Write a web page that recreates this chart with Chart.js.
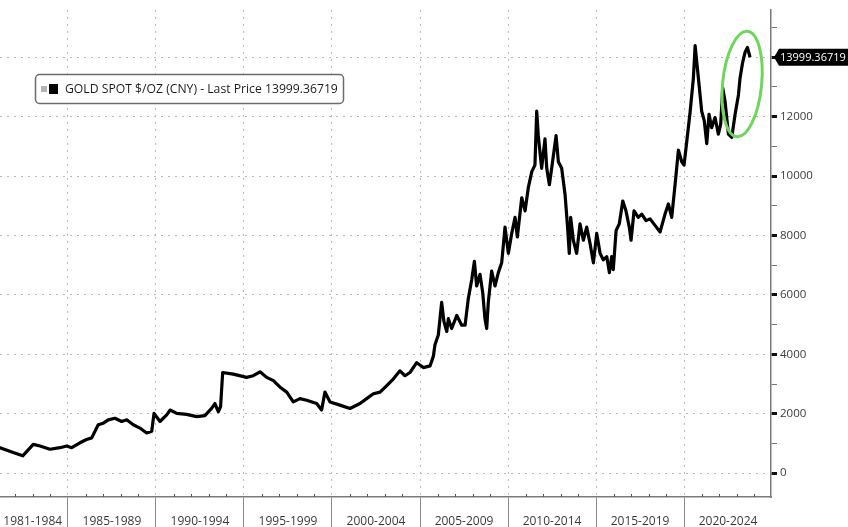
<!DOCTYPE html>
<html>
<head>
<meta charset="utf-8">
<title>Gold spot CNY</title>
<script src="https://cdn.jsdelivr.net/npm/chart.js@4.4.0/dist/chart.umd.min.js"></script>
<style>
    html, body { margin: 0; padding: 0; background: #fff; }
    #wrap { width: 848px; height: 527px; }
</style>
</head>
<body>
<div id="wrap"><canvas id="goldChart" width="848" height="527"></canvas></div>
<script>
var fontFamily = "'Open Sans', sans-serif";
var seriesLabel = "GOLD SPOT $/OZ (CNY)";
var lastPrice = 13999.36719;

// decimal year of each point
var years = [
    1981.0, 1981.14, 1981.89, 1982.43, 1983.03, 1983.41, 1983.98, 1984.55, 1984.93, 1985.21,
    1985.68, 1986.06, 1986.35, 1986.72, 1987.01, 1987.29, 1987.67, 1988.05, 1988.34, 1988.71,
    1989.09, 1989.47, 1989.76, 1989.89, 1990.23, 1990.61, 1990.8, 1991.18, 1991.74, 1992.31,
    1992.78, 1993.16, 1993.35, 1993.54, 1993.67, 1993.79, 1994.39, 1995.15, 1995.53, 1995.91,
    1996.29, 1996.67, 1997.05, 1997.43, 1997.8, 1998.18, 1998.56, 1999.13, 1999.41, 1999.6,
    1999.89, 2000.45, 2001.02, 2001.59, 2001.97, 2002.35, 2002.73, 2003.11, 2003.48, 2003.86,
    2004.15, 2004.43, 2004.81, 2005.19, 2005.57, 2005.76, 2005.85, 2006.04, 2006.23, 2006.36,
    2006.52, 2006.61, 2006.8, 2007.09, 2007.37, 2007.56, 2007.74, 2007.94, 2008.09, 2008.22,
    2008.41, 2008.56, 2008.69, 2008.79, 2008.88, 2009.07, 2009.26, 2009.45, 2009.64, 2009.83,
    2010.02, 2010.21, 2010.4, 2010.53, 2010.78, 2010.97, 2011.15, 2011.35, 2011.53, 2011.63,
    2011.72, 2011.91, 2012.1, 2012.2, 2012.35, 2012.48, 2012.73, 2012.86, 2013.05, 2013.24,
    2013.37, 2013.48, 2013.56, 2013.71, 2013.9, 2014.09, 2014.28, 2014.47, 2014.66, 2014.85,
    2015.04, 2015.23, 2015.41, 2015.61, 2015.76, 2015.89, 2015.98, 2016.14, 2016.32, 2016.52,
    2016.7, 2016.89, 2016.99, 2017.16, 2017.4, 2017.6, 2017.84, 2018.07, 2018.35, 2018.64,
    2018.92, 2019.11, 2019.3, 2019.49, 2019.68, 2019.87, 2020.0, 2020.15, 2020.34, 2020.53,
    2020.63, 2020.76, 2020.91, 2021.0, 2021.15, 2021.29, 2021.42, 2021.57, 2021.76, 2021.95,
    2022.08, 2022.2, 2022.33, 2022.52, 2022.71, 2022.9, 2023.09, 2023.18, 2023.33, 2023.47,
    2023.6, 2023.75
];

// price in CNY per oz
var prices = [
    870, 858, 693, 584, 970, 914, 805, 858, 914, 858,
    1023, 1135, 1188, 1630, 1683, 1795, 1848, 1739, 1795, 1630,
    1518, 1353, 1409, 2013, 1739, 1960, 2125, 2013, 1980, 1904,
    1937, 2178, 2343, 2069, 2234, 3389, 3333, 3224, 3280, 3412,
    3224, 3115, 2894, 2729, 2399, 2508, 2455, 2343, 2125, 2729,
    2399, 2290, 2178, 2343, 2508, 2673, 2729, 2950, 3168, 3445,
    3280, 3389, 3719, 3554, 3610, 3940, 4320, 4650, 5750, 5100,
    4770, 5200, 4870, 5310, 4980, 4980, 5860, 6520, 7130, 6300,
    6690, 6090, 5200, 4870, 5750, 6800, 6300, 6750, 7080, 8280,
    7400, 8070, 8610, 7950, 9270, 8830, 9600, 10150, 10370, 12190,
    11360, 10260, 11250, 10260, 9710, 10260, 11360, 10480, 10260, 9380,
    8390, 7400, 8610, 7840, 7400, 8390, 7840, 8280, 7730, 7080,
    8070, 7400, 7180, 7290, 6750, 7290, 6850, 8170, 8390, 9160,
    8830, 8280, 7840, 8830, 8610, 8720, 8500, 8560, 8340, 8120,
    8720, 9060, 8610, 9710, 10870, 10480, 10370, 11140, 12130, 13290,
    14390, 13620, 12730, 12190, 11860, 11090, 12080, 11630, 11970, 11410,
    11740, 12960, 12510, 11410, 11300, 12080, 12730, 13290, 13830, 14170,
    14330, 13999.37
];

// bottom axis blocks
var periodStarts = [1981, 1985, 1990, 1995, 2000, 2005, 2010, 2015, 2020];
var periodEnds = [1985, 1990, 1995, 2000, 2005, 2010, 2015, 2020, 2025];
var periodLabels = ["1981-1984", "1985-1989", "1990-1994", "1995-1999", "2000-2004", "2005-2009", "2010-2014", "2015-2019", "2020-2024"];
var periodBounds = [1985, 1990, 1995, 2000, 2005, 2010, 2015, 2020];

// right axis
var priceTicks = [0, 2000, 4000, 6000, 8000, 10000, 12000, 14000];
var priceMinorStep = 1000;

var gridColor = "#b8b8b8";
var axisColor = "#7a7a7a";
var labelColor = "#3a3a3a";

var points = years.map(function (yr, i) {
    return { x: yr, y: prices[i] };
});

var periodCenterLabel = {};
periodStarts.forEach(function (s, i) {
    periodCenterLabel[(s + periodEnds[i]) / 2] = periodLabels[i];
});

function isBound(v) {
    return periodBounds.indexOf(v) >= 0;
}

function isMajorPrice(v) {
    return priceTicks.indexOf(v) >= 0;
}

var decorPlugin = {
    id: "decor",
    afterDraw: function (chart) {
        var ctx = chart.ctx;
        var xs = chart.scales.x;
        var ys = chart.scales.y;
        var area = chart.chartArea;
        ctx.save();

        // small yearly ticks on the bottom axis
        ctx.strokeStyle = "#555";
        ctx.lineWidth = 1;
        for (var yr = 1982; yr < 2025; yr++) {
            if (yr % 5 === 0) continue;
            var px = Math.round(xs.getPixelForValue(yr)) + 0.5;
            ctx.beginPath();
            ctx.moveTo(px, area.bottom - 3);
            ctx.lineTo(px, area.bottom);
            ctx.stroke();
        }

        // green highlight ring round the latest run-up
        var cx = xs.getPixelForValue(2023.3);
        var cy = ys.getPixelForValue(13100);
        ctx.strokeStyle = "#6fd65c";
        ctx.lineWidth = 3;
        ctx.beginPath();
        ctx.ellipse(cx, cy, 19.5, 53, 0.1, 0, Math.PI * 2);
        ctx.stroke();

        // legend box
        var text = seriesLabel + " - Last Price " + lastPrice.toFixed(5);
        ctx.fillStyle = "#fff";
        ctx.strokeStyle = "#6b6b6b";
        ctx.lineWidth = 1.5;
        ctx.beginPath();
        ctx.roundRect(35.5, 74.5, 308, 29, 4);
        ctx.fill();
        ctx.stroke();
        ctx.fillStyle = "#b4b4b4";
        ctx.fillRect(41, 86, 6, 6);
        ctx.fillStyle = "#000";
        ctx.fillRect(49, 84, 9, 10);
        ctx.font = "12px " + fontFamily;
        var fs = 12 * 273 / ctx.measureText(text).width;
        ctx.font = fs.toFixed(2) + "px " + fontFamily;
        ctx.fillStyle = "#1c1c1c";
        ctx.textBaseline = "middle";
        ctx.textAlign = "left";
        ctx.fillText(text, 65, 89.5);

        // last price tag on the right axis
        var ty = ys.getPixelForValue(lastPrice);
        ctx.fillStyle = "#000";
        ctx.beginPath();
        ctx.moveTo(area.right + 3, ty);
        ctx.lineTo(area.right + 8, ty - 8.5);
        ctx.lineTo(chart.width, ty - 8.5);
        ctx.lineTo(chart.width, ty + 8.5);
        ctx.lineTo(area.right + 8, ty + 8.5);
        ctx.closePath();
        ctx.fill();
        ctx.fillStyle = "#fff";
        ctx.font = "11px " + fontFamily;
        ctx.fillText(lastPrice.toFixed(5), area.right + 9, ty + 0.5);

        ctx.restore();
    },
};

var config_line = {
    type: "line",
    data: {
        datasets: [
            {
                label: seriesLabel,
                data: points,
                borderColor: "#000",
                backgroundColor: "#000",
                borderWidth: 3.2,
                borderJoinStyle: "round",
                pointRadius: 0,
                tension: 0,
            },
        ],
    },
    options: {
        responsive: false,
        animation: false,
        layout: { padding: 0 },
        scales: {
            x: {
                type: "linear",
                min: 1981.14,
                max: 2024.94,
                afterBuildTicks: function (scale) {
                    var vals = Object.keys(periodCenterLabel).map(Number).concat(periodBounds);
                    vals.sort(function (a, b) { return a - b; });
                    scale.ticks = vals.map(function (v) { return { value: v }; });
                },
                afterFit: function (scale) {
                    scale.height = 30;
                },
                grid: {
                    color: function (c) {
                        return c.tick && isBound(c.tick.value) ? gridColor : "rgba(0,0,0,0)";
                    },
                    tickColor: function (c) {
                        return c.tick && isBound(c.tick.value) ? "#8a8a8a" : "rgba(0,0,0,0)";
                    },
                    lineWidth: 1,
                    tickLength: 30,
                    tickBorderDash: [],
                },
                border: {
                    color: axisColor,
                    width: 1.5,
                    dash: [2, 5],
                },
                ticks: {
                    autoSkip: false,
                    maxRotation: 0,
                    padding: -13,
                    color: labelColor,
                    font: { family: fontFamily, size: 12 },
                    callback: function (value) {
                        return periodCenterLabel[value] || "";
                    },
                },
            },
            y: {
                position: "right",
                min: -802,
                max: 15593,
                afterBuildTicks: function (scale) {
                    var t = [];
                    for (var v = 0; v <= 15000; v += priceMinorStep) t.push({ value: v });
                    scale.ticks = t;
                },
                afterFit: function (scale) {
                    scale.width = 77;
                },
                grid: {
                    color: function (c) {
                        return c.tick && isMajorPrice(c.tick.value) ? gridColor : "rgba(0,0,0,0)";
                    },
                    tickColor: function (c) {
                        return c.tick && isMajorPrice(c.tick.value) ? "#111" : "#777";
                    },
                    tickWidth: function (c) {
                        return c.tick && isMajorPrice(c.tick.value) ? 3 : 1;
                    },
                    lineWidth: 1,
                    tickLength: 6,
                    tickBorderDash: [],
                },
                border: {
                    color: axisColor,
                    width: 1.5,
                    dash: [2, 5],
                },
                ticks: {
                    padding: 3,
                    color: labelColor,
                    font: { family: fontFamily, size: 11.5 },
                    callback: function (value) {
                        return isMajorPrice(value) ? String(value) : "";
                    },
                },
            },
        },
        plugins: {
            legend: { display: false },
            tooltip: { enabled: false },
        },
    },
    plugins: [decorPlugin],
};

var goldChart = new Chart("goldChart", config_line);
</script>
</body>
</html>
